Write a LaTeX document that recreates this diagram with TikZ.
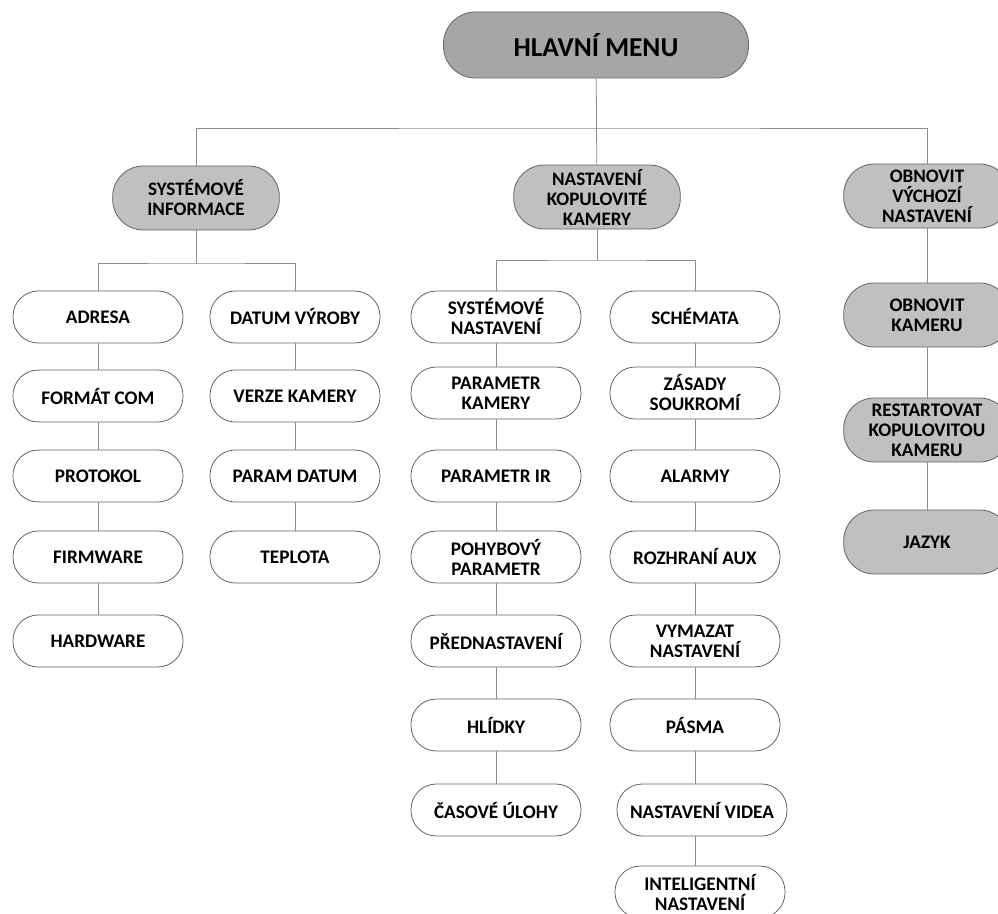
\documentclass[tikz,border=0pt]{standalone}
\usepackage{fontspec}
\setmainfont{Carlito}
\usepackage{tikz}
\usetikzlibrary{
  calc,
  positioning,
}
\definecolor{topfill}{RGB}{166,166,166}
\definecolor{grpfill}{RGB}{192,192,192}
\definecolor{edge}{RGB}{100,100,100}
\definecolor{wire}{RGB}{140,140,140}

\begin{document}
\begin{tikzpicture}[
  x=0.75pt, y=-0.75pt,
  pill/.style={draw=edge, line width=0.6pt, align=center, inner sep=1pt,
    font=\bfseries\fontsize{14.4}{15}\selectfont},
  mainbox/.style={pill, fill=topfill, minimum width=228.75pt, minimum height=49.5pt,
    rounded corners=24pt, font=\bfseries\fontsize{20.5}{22}\selectfont},
  grpbox/.style={pill, fill=grpfill, minimum width=125pt, minimum height=48pt,
    rounded corners=23pt, font=\bfseries\fontsize{14.3}{15}\selectfont},
  subbox/.style={pill, fill=grpfill, minimum width=125pt, minimum height=48pt,
    rounded corners=23pt},
  itembox/.style={pill, fill=white, minimum width=127.5pt, minimum height=39pt,
    rounded corners=19pt},
  wire/.style={draw=wire, line width=0.6pt}
]
\useasboundingbox (0,0) rectangle (998,913);

% hlavni menu a skupiny
\node[mainbox] (hm) at (596,45) {HLAVNÍ MENU};
\node[grpbox] (si) at (196,198) {SYSTÉMOVÉ\\INFORMACE};
\node[grpbox] (nk) at (597,197) {NASTAVENÍ\\KOPULOVITÉ\\KAMERY};
\node[grpbox] (ov) at (927,196) {OBNOVIT\\VÝCHOZÍ\\NASTAVENÍ};

\coordinate (j0) at (597,128);
\draw[wire] (hm) -- (nk);
\draw[wire] (si) |- (j0) -| (ov);

% systemove informace
\node[itembox] (adr) at (98,317) {ADRESA};
\node[itembox] (fmt) at (98,396) {FORMÁT COM};
\node[itembox] (pro) at (98,476) {PROTOKOL};
\node[itembox] (fw)  at (98,557) {FIRMWARE};
\node[itembox] (hw)  at (98,641) {HARDWARE};
\node[itembox] (dat) at (295,317) {DATUM VÝROBY};
\node[itembox] (ver) at (295,396) {VERZE KAMERY};
\node[itembox] (pd)  at (295,476) {PARAM DATUM};
\node[itembox] (tep) at (295,557) {TEPLOTA};

\coordinate (j1) at (196,263);
\draw[wire] (si) -- (j1);
\draw[wire] (adr) |- (j1) -| (dat);
\draw[wire] (adr) -- (fmt) -- (pro) -- (fw) -- (hw);
\draw[wire] (dat) -- (ver) -- (pd) -- (tep);

% nastaveni kopulovite kamery
\node[itembox] (sn)  at (496,317) {SYSTÉMOVÉ\\NASTAVENÍ};
\node[itembox] (pk)  at (496,393) {PARAMETR\\KAMERY};
\node[itembox] (pir) at (496,476) {PARAMETR IR};
\node[itembox] (pp)  at (496,557) {POHYBOVÝ\\PARAMETR};
\node[itembox] (pn)  at (496,641) {PŘEDNASTAVENÍ};
\node[itembox] (hl)  at (496,725) {HLÍDKY};
\node[itembox] (cu)  at (496,810) {ČASOVÉ ÚLOHY};
\node[itembox] (sch) at (695,317) {SCHÉMATA};
\node[itembox] (zs)  at (695,393) {ZÁSADY\\SOUKROMÍ};
\node[itembox] (al)  at (695,476) {ALARMY};
\node[itembox] (ra)  at (695,557) {ROZHRANÍ AUX};
\node[itembox] (vn)  at (695,641) {VYMAZAT\\NASTAVENÍ};
\node[itembox] (pa)  at (695,725) {PÁSMA};
\node[itembox] (nv)  at (702,810) {NASTAVENÍ VIDEA};
\node[itembox] (ins) at (700,892) {INTELIGENTNÍ\\NASTAVENÍ};

\coordinate (j2) at (597,260);
\draw[wire] (nk) -- (j2);
\draw[wire] (sn) |- (j2) -| (sch);
\draw[wire] (sn) -- (pk) -- (pir) -- (pp) -- (pn) -- (hl) -- (cu);
\draw[wire] (sch) -- (zs) -- (al) -- (ra) -- (vn) -- (pa);
\draw[wire] (pa.south) -- (pa.south |- nv.north);
\draw[wire] (pa.south |- nv.south) -- (pa.south |- ins.north);

% obnovit vychozi nastaveni
\node[subbox] (ok) at (927,315) {OBNOVIT\\KAMERU};
\node[subbox] (rk) at (927,430) {RESTARTOVAT\\KOPULOVITOU\\KAMERU};
\node[subbox] (jz) at (927,542) {JAZYK};
\draw[wire] (ov) -- (ok) -- (rk) -- (jz);
\end{tikzpicture}
\end{document}
